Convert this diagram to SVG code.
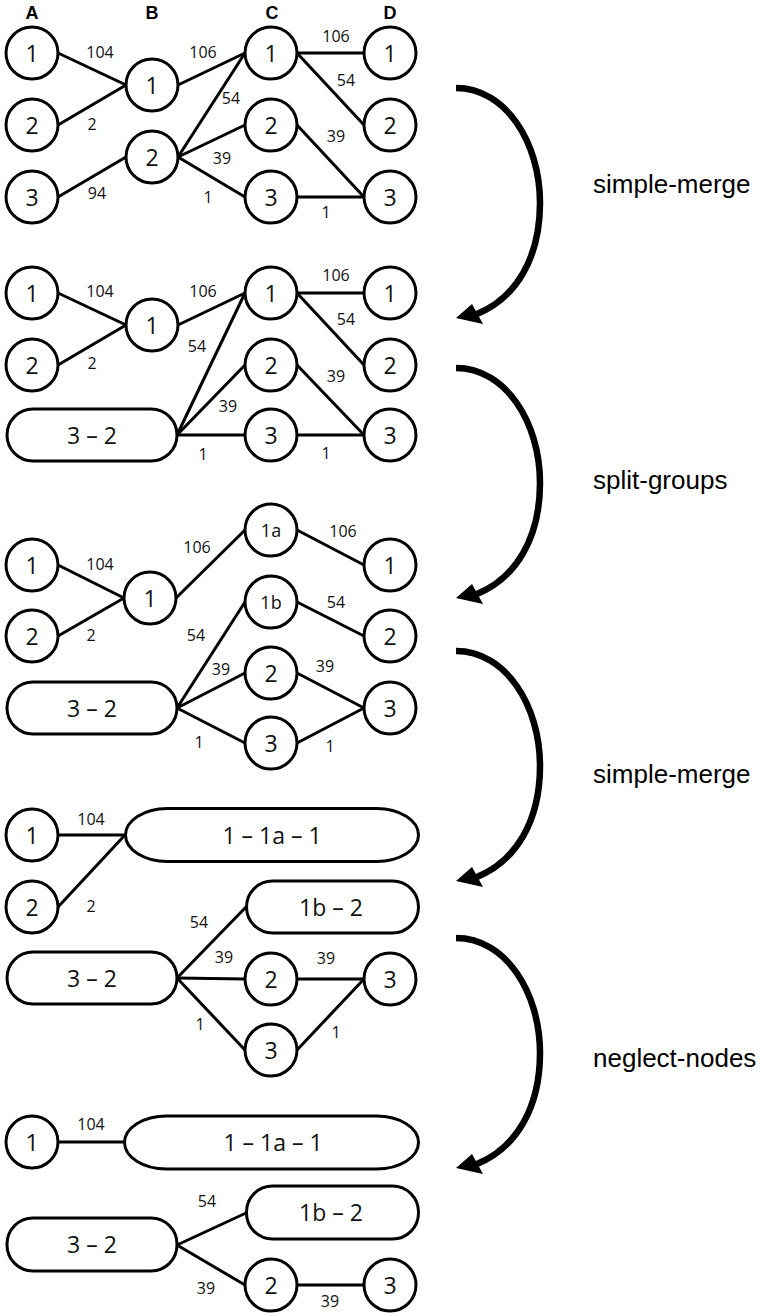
<svg xmlns="http://www.w3.org/2000/svg" xmlns:xlink="http://www.w3.org/1999/xlink" width="762" height="1316" viewBox="0 0 762 1316">
<style>
.n{fill:#fff;stroke:#000;stroke-width:3}
.e{stroke:#000;stroke-width:3;fill:none}
.t{font-family:"Open Sans","Liberation Sans",sans-serif;font-size:23px;fill:#111;text-anchor:middle;dominant-baseline:central}
.ts{font-family:"Open Sans","Liberation Sans",sans-serif;font-size:18px;fill:#111;text-anchor:middle;dominant-baseline:central}
.l{font-family:"Open Sans","Liberation Sans",sans-serif;font-size:16px;fill:#111;text-anchor:middle}
.h{font-family:"Liberation Sans",Arial,sans-serif;font-size:18px;font-weight:bold;fill:#000;text-anchor:middle}
.op{font-family:"Liberation Sans",Arial,sans-serif;font-size:26px;fill:#000}
.arr{fill:none;stroke:#000;stroke-width:6.5}
</style>
<defs>
<g id="bigarrow">
<path class="arr" d="M0,0 C50,0 84,55 84,115 C84,170 60,210 21,226"/>
<polygon points="0,230 16,216 27,236" fill="#000"/>
</g>
</defs>
<rect width="762" height="1316" fill="#fff"/>

<g id="headers">
<text class="h" x="32" y="19">A</text>
<text class="h" x="152" y="19">B</text>
<text class="h" x="272" y="19">C</text>
<text class="h" x="390" y="19">D</text>
</g>

<g id="connectors">
<!-- panel 1 -->
<line class="e" x1="58" y1="53" x2="126" y2="85"/>
<line class="e" x1="58" y1="125" x2="126" y2="85"/>
<line class="e" x1="58" y1="197" x2="126" y2="157"/>
<line class="e" x1="178" y1="85" x2="245" y2="53"/>
<line class="e" x1="178" y1="157" x2="245" y2="53"/>
<line class="e" x1="178" y1="157" x2="245" y2="125"/>
<line class="e" x1="178" y1="157" x2="245" y2="197"/>
<line class="e" x1="297" y1="53" x2="364" y2="53"/>
<line class="e" x1="297" y1="53" x2="364" y2="125"/>
<line class="e" x1="297" y1="125" x2="364" y2="197"/>
<line class="e" x1="297" y1="197" x2="364" y2="197"/>
<!-- panel 2 -->
<line class="e" x1="58" y1="293" x2="126" y2="325"/>
<line class="e" x1="58" y1="365" x2="126" y2="325"/>
<line class="e" x1="178" y1="325" x2="245" y2="293"/>
<line class="e" x1="177" y1="435" x2="245" y2="293"/>
<line class="e" x1="177" y1="435" x2="245" y2="365"/>
<line class="e" x1="177" y1="435" x2="245" y2="435"/>
<line class="e" x1="297" y1="293" x2="364" y2="293"/>
<line class="e" x1="297" y1="293" x2="364" y2="365"/>
<line class="e" x1="297" y1="365" x2="364" y2="435"/>
<line class="e" x1="297" y1="435" x2="364" y2="435"/>
<!-- panel 3 -->
<line class="e" x1="58" y1="565" x2="124" y2="598"/>
<line class="e" x1="58" y1="636" x2="124" y2="598"/>
<line class="e" x1="176" y1="598" x2="245" y2="530"/>
<line class="e" x1="297" y1="530" x2="364" y2="565"/>
<line class="e" x1="297" y1="602" x2="364" y2="636"/>
<line class="e" x1="177" y1="708" x2="245" y2="602"/>
<line class="e" x1="177" y1="708" x2="245" y2="673"/>
<line class="e" x1="177" y1="708" x2="245" y2="743"/>
<line class="e" x1="297" y1="673" x2="364" y2="708"/>
<line class="e" x1="297" y1="743" x2="364" y2="708"/>
<!-- panel 4 -->
<line class="e" x1="58" y1="835" x2="125" y2="835"/>
<line class="e" x1="58" y1="907" x2="125" y2="835"/>
<line class="e" x1="177" y1="978" x2="246" y2="907"/>
<line class="e" x1="177" y1="978" x2="245" y2="979"/>
<line class="e" x1="177" y1="978" x2="245" y2="1050"/>
<line class="e" x1="297" y1="979" x2="364" y2="979"/>
<line class="e" x1="297" y1="1050" x2="364" y2="979"/>
<!-- panel 5 -->
<line class="e" x1="58" y1="1142" x2="124" y2="1142"/>
<line class="e" x1="177" y1="1245" x2="246" y2="1213"/>
<line class="e" x1="177" y1="1245" x2="245" y2="1285"/>
<line class="e" x1="297" y1="1285" x2="364" y2="1285"/>
</g>

<g id="edge-labels">
<text class="l" x="100" y="58">104</text>
<text class="l" x="92" y="130">2</text>
<text class="l" x="97" y="199">94</text>
<text class="l" x="203" y="58">106</text>
<text class="l" x="231" y="104">54</text>
<text class="l" x="222" y="164">39</text>
<text class="l" x="208" y="203">1</text>
<text class="l" x="336" y="42">106</text>
<text class="l" x="346" y="86">54</text>
<text class="l" x="336" y="142">39</text>
<text class="l" x="326" y="218">1</text>

<text class="l" x="100" y="297">104</text>
<text class="l" x="92" y="369">2</text>
<text class="l" x="203" y="297">106</text>
<text class="l" x="197" y="352">54</text>
<text class="l" x="228" y="412">39</text>
<text class="l" x="203" y="460">1</text>
<text class="l" x="336" y="281">106</text>
<text class="l" x="346" y="325">54</text>
<text class="l" x="336" y="382">39</text>
<text class="l" x="326" y="459">1</text>

<text class="l" x="100" y="570">104</text>
<text class="l" x="91" y="641">2</text>
<text class="l" x="197" y="553">106</text>
<text class="l" x="343" y="537">106</text>
<text class="l" x="196" y="641">54</text>
<text class="l" x="336" y="608">54</text>
<text class="l" x="221" y="675">39</text>
<text class="l" x="325" y="672">39</text>
<text class="l" x="199" y="748">1</text>
<text class="l" x="330" y="752">1</text>

<text class="l" x="91" y="825">104</text>
<text class="l" x="91" y="912">2</text>
<text class="l" x="199" y="928">54</text>
<text class="l" x="224" y="963">39</text>
<text class="l" x="326" y="964">39</text>
<text class="l" x="200" y="1030">1</text>
<text class="l" x="336" y="1038">1</text>

<text class="l" x="91" y="1130">104</text>
<text class="l" x="207" y="1207">54</text>
<text class="l" x="206" y="1294">39</text>
<text class="l" x="330" y="1307">39</text>
</g>

<!-- panel 1 nodes -->
<g id="p1-A1"><circle class="n" cx="32" cy="53" r="26"/><text class="t" x="32" y="53">1</text></g>
<g id="p1-A2"><circle class="n" cx="32" cy="125" r="26"/><text class="t" x="32" y="125">2</text></g>
<g id="p1-A3"><circle class="n" cx="32" cy="197" r="26"/><text class="t" x="32" y="197">3</text></g>
<g id="p1-B1"><circle class="n" cx="152" cy="85" r="26"/><text class="t" x="152" y="85">1</text></g>
<g id="p1-B2"><circle class="n" cx="152" cy="157" r="26"/><text class="t" x="152" y="157">2</text></g>
<g id="p1-C1"><circle class="n" cx="271" cy="53" r="26"/><text class="t" x="271" y="53">1</text></g>
<g id="p1-C2"><circle class="n" cx="271" cy="125" r="26"/><text class="t" x="271" y="125">2</text></g>
<g id="p1-C3"><circle class="n" cx="271" cy="197" r="26"/><text class="t" x="271" y="197">3</text></g>
<g id="p1-D1"><circle class="n" cx="390" cy="53" r="26"/><text class="t" x="390" y="53">1</text></g>
<g id="p1-D2"><circle class="n" cx="390" cy="125" r="26"/><text class="t" x="390" y="125">2</text></g>
<g id="p1-D3"><circle class="n" cx="390" cy="197" r="26"/><text class="t" x="390" y="197">3</text></g>

<!-- panel 2 nodes -->
<g id="p2-A1"><circle class="n" cx="32" cy="293" r="26"/><text class="t" x="32" y="293">1</text></g>
<g id="p2-A2"><circle class="n" cx="32" cy="365" r="26"/><text class="t" x="32" y="365">2</text></g>
<g id="p2-B1"><circle class="n" cx="152" cy="325" r="26"/><text class="t" x="152" y="325">1</text></g>
<g id="p2-32"><rect class="n" x="7" y="409" width="170" height="52" rx="26"/><text class="t" x="92" y="435">3 – 2</text></g>
<g id="p2-C1"><circle class="n" cx="271" cy="293" r="26"/><text class="t" x="271" y="293">1</text></g>
<g id="p2-C2"><circle class="n" cx="271" cy="365" r="26"/><text class="t" x="271" y="365">2</text></g>
<g id="p2-C3"><circle class="n" cx="271" cy="435" r="26"/><text class="t" x="271" y="435">3</text></g>
<g id="p2-D1"><circle class="n" cx="390" cy="293" r="26"/><text class="t" x="390" y="293">1</text></g>
<g id="p2-D2"><circle class="n" cx="390" cy="365" r="26"/><text class="t" x="390" y="365">2</text></g>
<g id="p2-D3"><circle class="n" cx="390" cy="435" r="26"/><text class="t" x="390" y="435">3</text></g>

<!-- panel 3 nodes -->
<g id="p3-A1"><circle class="n" cx="32" cy="565" r="26"/><text class="t" x="32" y="565">1</text></g>
<g id="p3-A2"><circle class="n" cx="32" cy="636" r="26"/><text class="t" x="32" y="636">2</text></g>
<g id="p3-B1"><circle class="n" cx="150" cy="598" r="26"/><text class="t" x="150" y="598">1</text></g>
<g id="p3-C1a"><circle class="n" cx="271" cy="530" r="26"/><text class="ts" x="271" y="530">1a</text></g>
<g id="p3-C1b"><circle class="n" cx="271" cy="602" r="26"/><text class="ts" x="271" y="602">1b</text></g>
<g id="p3-C2"><circle class="n" cx="271" cy="673" r="26"/><text class="t" x="271" y="673">2</text></g>
<g id="p3-C3"><circle class="n" cx="271" cy="743" r="26"/><text class="t" x="271" y="743">3</text></g>
<g id="p3-32"><rect class="n" x="7" y="682" width="170" height="52" rx="26"/><text class="t" x="92" y="708">3 – 2</text></g>
<g id="p3-D1"><circle class="n" cx="390" cy="565" r="26"/><text class="t" x="390" y="565">1</text></g>
<g id="p3-D2"><circle class="n" cx="390" cy="636" r="26"/><text class="t" x="390" y="636">2</text></g>
<g id="p3-D3"><circle class="n" cx="390" cy="708" r="26"/><text class="t" x="390" y="708">3</text></g>

<!-- panel 4 nodes -->
<g id="p4-A1"><circle class="n" cx="32" cy="835" r="26"/><text class="t" x="32" y="835">1</text></g>
<g id="p4-A2"><circle class="n" cx="32" cy="907" r="26"/><text class="t" x="32" y="907">2</text></g>
<g id="p4-11a1"><rect class="n" x="125.5" y="808.5" width="293" height="53" rx="42" ry="26.5"/><text class="t" x="272" y="835">1 – 1a – 1</text></g>
<g id="p4-1b2"><rect class="n" x="246.5" y="881" width="172" height="52" rx="26"/><text class="t" x="331" y="907">1b – 2</text></g>
<g id="p4-32"><rect class="n" x="7" y="952" width="170" height="52" rx="26"/><text class="t" x="92" y="978">3 – 2</text></g>
<g id="p4-C2"><circle class="n" cx="271" cy="979" r="26"/><text class="t" x="271" y="979">2</text></g>
<g id="p4-C3"><circle class="n" cx="271" cy="1050" r="26"/><text class="t" x="271" y="1050">3</text></g>
<g id="p4-D3"><circle class="n" cx="390" cy="979" r="26"/><text class="t" x="390" y="979">3</text></g>

<!-- panel 5 nodes -->
<g id="p5-A1"><circle class="n" cx="32" cy="1142" r="26"/><text class="t" x="32" y="1142">1</text></g>
<g id="p5-11a1"><rect class="n" x="124.5" y="1116" width="294" height="53" rx="42" ry="26.5"/><text class="t" x="273" y="1142">1 – 1a – 1</text></g>
<g id="p5-1b2"><rect class="n" x="246.5" y="1186" width="172" height="53" rx="26"/><text class="t" x="331" y="1212">1b – 2</text></g>
<g id="p5-32"><rect class="n" x="7" y="1218" width="170" height="53" rx="26"/><text class="t" x="92" y="1244">3 – 2</text></g>
<g id="p5-C2"><circle class="n" cx="271" cy="1285" r="26"/><text class="t" x="271" y="1285">2</text></g>
<g id="p5-D3"><circle class="n" cx="390" cy="1285" r="26"/><text class="t" x="390" y="1285">3</text></g>

<g id="operations">
<use xlink:href="#bigarrow" href="#bigarrow" transform="translate(456,88)"/>
<text class="op" x="593" y="193">simple-merge</text>
<use xlink:href="#bigarrow" href="#bigarrow" transform="translate(456,368)"/>
<text class="op" x="593" y="489">split-groups</text>
<use xlink:href="#bigarrow" href="#bigarrow" transform="translate(456,651)"/>
<text class="op" x="593" y="783">simple-merge</text>
<use xlink:href="#bigarrow" href="#bigarrow" transform="translate(456,938)"/>
<text class="op" x="593" y="1067">neglect-nodes</text>
</g>
</svg>
